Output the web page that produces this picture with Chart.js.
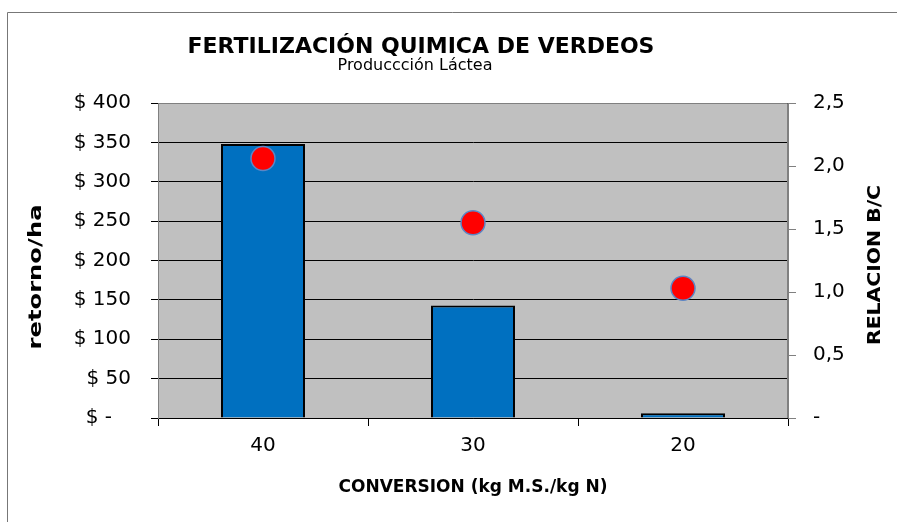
<!DOCTYPE html>
<html>
<head>
<meta charset="utf-8">
<script src="https://cdn.jsdelivr.net/npm/chart.js@4"></script>
<style>
html, body { margin: 0; padding: 0; background: #fff; }
</style>
</head>
<body>
<canvas id="grafico1" width="897" height="522"></canvas>
<script>
let categorias = ['40', '30', '20']
let retorno = [348, 143, 6]
let relacion = [2.06, 1.55, 1.03]

let fuente = '"DejaVu Sans", Verdana, sans-serif'
Chart.defaults.font.family = fuente
Chart.defaults.color = '#000'

function texto(c, t, x, y, font) {
    c.save()
    c.font = font
    c.fillStyle = '#000'
    c.textAlign = 'center'
    c.textBaseline = 'middle'
    c.fillText(t, x, y)
    c.restore()
}

// vertical axis titles, stretched along the text like the original
function tituloVertical(c, t, x, y, largo) {
    c.save()
    c.font = 'bold 18px ' + fuente
    let ancho = c.measureText(t).width
    c.translate(x, y)
    c.rotate(-Math.PI / 2)
    c.scale(largo / ancho, 1)
    c.fillStyle = '#000'
    c.textAlign = 'center'
    c.textBaseline = 'middle'
    c.fillText(t, 0, 0)
    c.restore()
}

let fondo = {
    id: 'fondo',
    beforeDraw(chart) {
        let c = chart.ctx
        let a = chart.chartArea
        c.save()
        c.fillStyle = '#fff'
        c.fillRect(0, 0, chart.width, chart.height)
        c.strokeStyle = '#777'
        c.lineWidth = 1
        c.beginPath()
        c.moveTo(7.5, chart.height)
        c.lineTo(7.5, 12.5)
        c.lineTo(chart.width, 12.5)
        c.stroke()
        c.fillStyle = '#C0C0C0'
        c.fillRect(a.left, a.top, a.right - a.left, a.bottom - a.top)
        c.restore()
    },
    beforeDatasetsDraw(chart) {
        let c = chart.ctx
        let a = chart.chartArea
        c.save()
        c.strokeStyle = '#808080'
        c.lineWidth = 1
        c.beginPath()
        c.moveTo(a.left + 0.5, a.bottom)
        c.lineTo(a.left + 0.5, a.top + 0.5)
        c.lineTo(a.right - 0.5, a.top + 0.5)
        c.lineTo(a.right - 0.5, a.bottom)
        c.stroke()
        c.restore()
    },
    afterDraw(chart) {
        let c = chart.ctx
        texto(c, 'FERTILIZACIÓN QUIMICA DE VERDEOS', 421, 47, 'bold 22px ' + fuente)
        texto(c, 'Produccción Láctea', 415, 66, '16px ' + fuente)
        tituloVertical(c, 'retorno/ha', 36, 277, 145)
        tituloVertical(c, 'RELACION B/C', 875, 265, 160)
    }
}

let ctx = document.getElementById('grafico1').getContext('2d')

let grafico = new Chart(ctx, {
    data: {
        labels: categorias,
        datasets: [{
            type: 'line',
            data: relacion,
            yAxisID: 'y1',
            showLine: false,
            pointRadius: 12,
            pointBackgroundColor: '#FF0000',
            pointBorderColor: '#5B86C5',
            pointBorderWidth: 1.5,
            order: 1
        }, {
            type: 'bar',
            data: retorno,
            yAxisID: 'y',
            backgroundColor: '#0070C0',
            borderColor: '#000',
            borderWidth: 2,
            barPercentage: 0.4,
            categoryPercentage: 1,
            order: 2
        }]
    },
    plugins: [fondo],
    options: {
        responsive: false,
        animation: false,
        layout: { padding: { left: 0, right: 0, top: 103, bottom: 0 } },
        plugins: {
            legend: { display: false },
            tooltip: { enabled: false }
        },
        scales: {
            x: {
                offset: true,
                grid: { offset: true, drawOnChartArea: false, tickLength: 8, color: '#000' },
                border: { color: '#000' },
                ticks: { font: { size: 20 }, padding: 8 },
                title: {
                    display: true,
                    text: 'CONVERSION (kg M.S./kg N)',
                    font: { size: 17, weight: 'bold' },
                    padding: { top: 0, bottom: 24 }
                },
                afterFit(s) { s.height = 104 }
            },
            y: {
                position: 'left',
                min: 0,
                max: 400,
                grid: { color: '#000', tickLength: 7 },
                border: { color: '#808080' },
                ticks: {
                    stepSize: 50,
                    font: { size: 20 },
                    padding: 20,
                    callback: v => v === 0 ? '$ -   ' : '$ ' + v
                },
                afterFit(s) { s.width = 158 }
            },
            y1: {
                position: 'right',
                min: 0,
                max: 2.5,
                grid: { drawOnChartArea: false, color: '#808080', tickLength: 8 },
                border: { color: '#808080' },
                ticks: {
                    stepSize: 0.5,
                    font: { size: 20 },
                    padding: 17,
                    callback: v => v === 0 ? '-' : v.toFixed(1).replace('.', ',')
                },
                afterFit(s) { s.width = 109 }
            }
        }
    }
})
</script>
</body>
</html>
